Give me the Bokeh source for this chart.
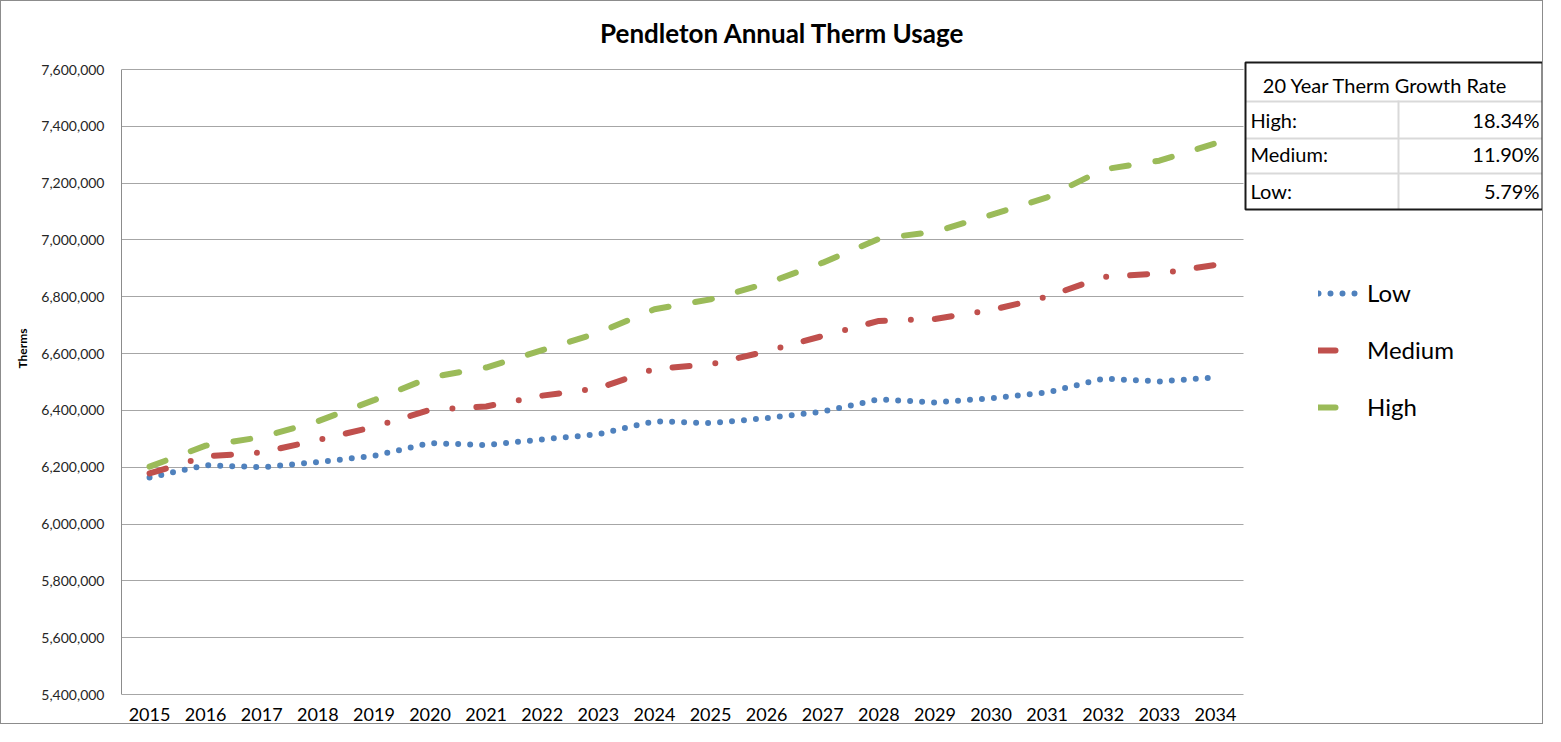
from bokeh.plotting import figure
from bokeh.models import (Range1d, NumeralTickFormatter, Label, BoxAnnotation,
                          Legend, LegendItem, FixedTicker)
from bokeh.embed import file_html
from bokeh.resources import INLINE

# ---------------- data ----------------
years = list(range(2015, 2035))
low = [6164000, 6207000, 6200000, 6218000, 6240000, 6285000, 6278000, 6298000,
       6316000, 6362000, 6355000, 6373000, 6396000, 6439000, 6428000, 6443000,
       6463000, 6512000, 6502000, 6516000]
medium = [6178000, 6238000, 6252000, 6296000, 6342000, 6402000, 6414000, 6452000,
          6478000, 6546000, 6562000, 6608000, 6662000, 6715000, 6722000, 6753000,
          6800000, 6870000, 6882000, 6912000]
high = [6202000, 6276000, 6306000, 6362000, 6436000, 6516000, 6551000, 6612000,
        6673000, 6756000, 6791000, 6847000, 6920000, 7004000, 7029000, 7088000,
        7150000, 7248000, 7279000, 7340000]
y_ticks = list(range(5400000, 7600001, 200000))
series_names = ["Low", "Medium", "High"]
growth_labels = ["High:", "Medium:", "Low:"]
growth_values = ["18.34%", "11.90%", "5.79%"]
table_title = "20 Year Therm Growth Rate"
chart_title = "Pendleton Annual Therm Usage"

FONT = "Lato"
W, H = 1543, 724

# layout geometry (canvas pixels)
FRAME_L = 120          # frame left
FRAME_B = 694          # frame bottom
PA_R = 1242            # right edge of the plot area
PA_T = 68              # top gridline
PA_B = 693             # bottom gridline

x_lo = years[0] - 0.5
x_hi_pa = years[-1] + 0.5
px_per_x = (PA_R - FRAME_L) / (x_hi_pa - x_lo)
x_end = x_lo + (W - FRAME_L) / px_per_x

y_lo, y_hi = y_ticks[0], y_ticks[-1]
px_per_y = (PA_B - PA_T) / (y_hi - y_lo)
y_start = y_lo - (FRAME_B - PA_B) / px_per_y
y_end = y_lo + PA_B / px_per_y

p = figure(width=W, height=H,
           x_range=Range1d(x_lo, x_end), y_range=Range1d(y_start, y_end),
           output_backend="svg", toolbar_location=None,
           min_border_left=FRAME_L, min_border_right=0,
           min_border_top=0, min_border_bottom=H - FRAME_B)
p.styles = {"border": "1px solid #8c8c8c"}
p.outline_line_color = None
p.background_fill_color = "white"
p.border_fill_color = "white"
p.title.visible = False

# canvas-pixel helper ranges for the decorations
p.extra_x_ranges = {"cx": Range1d(FRAME_L, W)}
p.extra_y_ranges = {"cy": Range1d(FRAME_B, 0)}

# axes
p.yaxis.ticker = FixedTicker(ticks=y_ticks)
p.yaxis.bounds = (y_lo, y_hi)
p.yaxis.formatter = NumeralTickFormatter(format="0,0")
p.yaxis.major_label_text_font = FONT
p.yaxis.major_label_text_font_size = "14px"
p.yaxis.major_label_text_color = "#262626"
p.yaxis.major_tick_line_color = None
p.yaxis.major_tick_out = 0
p.yaxis.major_tick_in = 0
p.yaxis.minor_tick_line_color = None
p.yaxis.major_label_standoff = 17
p.yaxis.axis_line_color = "#8c8c8c"
p.yaxis.axis_label = "Therms"
p.yaxis.axis_label_text_font = FONT
p.yaxis.axis_label_text_font_style = "bold"
p.yaxis.axis_label_text_font_size = "12px"
p.yaxis.axis_label_text_color = "black"
p.yaxis.axis_label_standoff = 8

p.xaxis.ticker = FixedTicker(ticks=years)
p.xaxis.axis_line_color = None
p.xaxis.major_tick_line_color = None
p.xaxis.major_tick_out = 0
p.xaxis.major_tick_in = 0
p.xaxis.minor_tick_line_color = None
p.xaxis.major_label_text_font = FONT
p.xaxis.major_label_text_font_size = "18px"
p.xaxis.major_label_text_color = "black"
p.xaxis.major_label_standoff = 12

p.xgrid.grid_line_color = None
p.ygrid.ticker = FixedTicker(ticks=y_ticks)
p.ygrid.grid_line_color = "#a6a6a6"
p.ygrid.grid_line_width = 1
if "cross_bounds" in p.ygrid[0].properties():
    p.ygrid.cross_bounds = (x_lo, x_hi_pa)
    p.ygrid.bounds = (y_lo, y_hi)
else:
    p.ygrid.grid_line_color = None
    p.segment(x0=[x_lo] * len(y_ticks), x1=[x_hi_pa] * len(y_ticks),
              y0=y_ticks, y1=y_ticks, line_color="#a6a6a6", line_width=1)

# lines
r_low = p.line(years, low, line_color="#4f81bd", line_width=6, line_cap="round",
               line_join="round", line_dash="0 12")
r_med = p.line(years, medium, line_color="#c0504d", line_width=6, line_cap="round",
               line_join="round", line_dash="17 26 0 24")
r_high = p.line(years, high, line_color="#9bbb59", line_width=6, line_cap="round",
                line_join="round", line_dash="17 27")

legend = Legend(items=[LegendItem(label=series_names[0], renderers=[r_low]),
                       LegendItem(label=series_names[1], renderers=[r_med]),
                       LegendItem(label=series_names[2], renderers=[r_high])],
                location=(1197, 274), orientation="vertical",
                glyph_width=42, glyph_height=22, spacing=28, padding=0, margin=0,
                label_standoff=7, label_text_font=FONT, label_text_font_size="24px",
                label_text_color="black",
                background_fill_alpha=0, border_line_color=None)
p.add_layout(legend)

def clabel(x, y, text, size, align="left", style="normal"):
    return Label(x=x, y=y, x_range_name="cx", y_range_name="cy", text=text,
                 text_font=FONT, text_font_size=size, text_font_style=style,
                 text_align=align, text_baseline="middle", text_color="black")

def cbox(l, r, t, b, **kw):
    return BoxAnnotation(left=l, right=r, top=t, bottom=b,
                         x_range_name="cx", y_range_name="cy", **kw)

# chart title
p.add_layout(clabel(781, 31, chart_title, "26px", "center", "bold"))

# growth table
T_L, T_R, T_T, T_B = 1244, 1541, 61, 208
row_lines = [99, 136, 171]
col_x = 1396
p.add_layout(cbox(T_L, T_R, T_T, T_B, fill_color="white", fill_alpha=1,
                  line_color=None))
for yl in row_lines:
    p.add_layout(cbox(T_L, T_R, yl, yl + 2, fill_color="#d9d9d9", fill_alpha=1,
                      line_color=None))
p.add_layout(cbox(col_x, col_x + 2, row_lines[0], T_B, fill_color="#d9d9d9",
                  fill_alpha=1, line_color=None))
p.add_layout(cbox(T_L, T_R, T_T, T_B, fill_alpha=0, line_color="#1a1a1a",
                  line_alpha=1, line_width=2))

p.add_layout(clabel(T_L + 140, 83, table_title, "20px", "center"))
row_text_y = [118.5, 152.5, 189.5]
for i in range(3):
    p.add_layout(clabel(T_L + 5, row_text_y[i], growth_labels[i], "20px", "left"))
    p.add_layout(clabel(T_R - 3, row_text_y[i], growth_values[i], "20px", "right"))

open("out.html", "w").write(file_html(p, INLINE))
